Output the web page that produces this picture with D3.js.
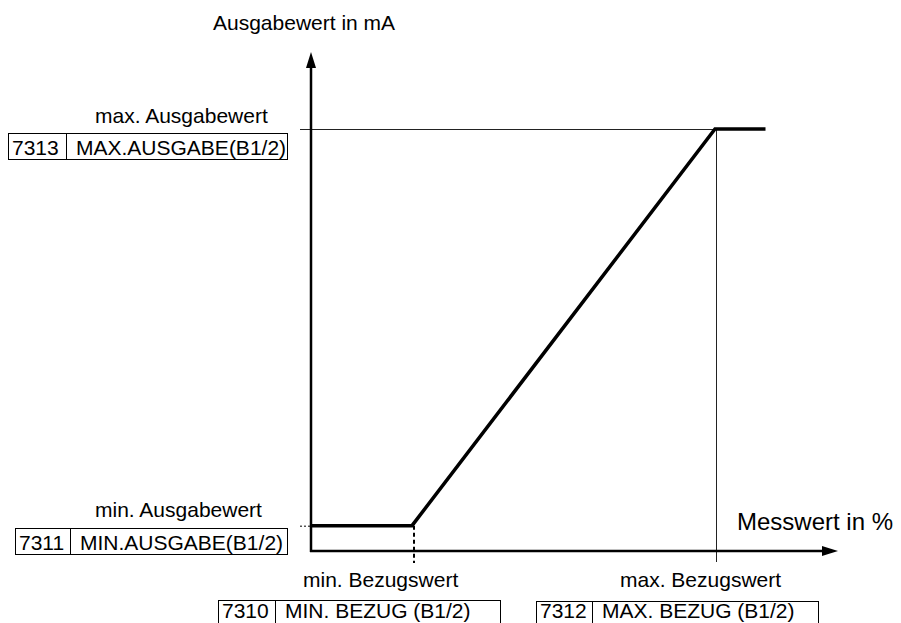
<!DOCTYPE html>
<html>
<head>
<meta charset="utf-8">
<script src="https://cdn.jsdelivr.net/npm/d3@7"></script>
<style>
  body { margin: 0; background: #fff; }
  svg text { font-family: "Liberation Sans", Arial, sans-serif; font-size: 21px; fill: #000; }
</style>
</head>
<body>
<div id="chart"></div>
<script>
// Chart size
const WIDTH = 901;
const HEIGHT = 623;

// Data (relative units)
const curveX = [0, 20, 80, 90];      // Messwert in %
const curveY = [6, 6, 100, 100];     // Ausgabewert (relative)
const refX = [20, 80];               // min. / max. Bezugswert
const outY = [6, 100];               // min. / max. Ausgabewert
const xLabels = ["min. Bezugswert", "max. Bezugswert"];
const yLabels = ["min. Ausgabewert", "max. Ausgabewert"];
const paramCodes = ["7310", "7312", "7311", "7313"];
const paramNames = ["MIN. BEZUG (B1/2)", "MAX. BEZUG (B1/2)", "MIN.AUSGABE(B1/2)", "MAX.AUSGABE(B1/2)"];

const svg = d3.select("#chart").append("svg")
  .attr("width", WIDTH).attr("height", HEIGHT);

const x = d3.scaleLinear().domain([0, 100]).range([311, 816]);
const y = d3.scaleLinear().domain([0, 100]).range([551, 129]);

// helper lines
svg.append("line")
  .attr("x1", 300).attr("x2", x(refX[1]))
  .attr("y1", y(outY[1]) + 0.5).attr("y2", y(outY[1]) + 0.5)
  .attr("stroke", "#222").attr("stroke-width", 1);
svg.append("line")
  .attr("x1", 716.5).attr("x2", 716.5)
  .attr("y1", y(outY[1])).attr("y2", 562)
  .attr("stroke", "#222").attr("stroke-width", 1);
svg.append("line")
  .attr("x1", x(refX[0]) + 2).attr("x2", x(refX[0]) + 2)
  .attr("y1", y(outY[0])).attr("y2", 563)
  .attr("stroke", "#000").attr("stroke-width", 2)
  .attr("stroke-dasharray", "4,3");
svg.append("line")
  .attr("x1", 300).attr("x2", x(0))
  .attr("y1", y(outY[0]) + 0.5).attr("y2", y(outY[0]) + 0.5)
  .attr("stroke", "#000").attr("stroke-width", 1)
  .attr("stroke-dasharray", "2,2");

// axes with arrows
svg.append("line")
  .attr("x1", x(0)).attr("x2", x(0))
  .attr("y1", y(0) + 1).attr("y2", 64)
  .attr("stroke", "#000").attr("stroke-width", 2.5);
svg.append("path")
  .attr("d", `M${x(0)},52 L${x(0) - 5},68 L${x(0) + 5},68 Z`)
  .attr("fill", "#000");
svg.append("line")
  .attr("x1", x(0) - 1).attr("x2", 826)
  .attr("y1", y(0)).attr("y2", y(0))
  .attr("stroke", "#000").attr("stroke-width", 2.5);
svg.append("path")
  .attr("d", `M838,${y(0)} L822,${y(0) - 5} L822,${y(0) + 5} Z`)
  .attr("fill", "#000");

// characteristic curve
const line = d3.line().x(d => x(d[0])).y(d => y(d[1]));
svg.append("path")
  .datum(curveX.map((d, i) => [d, curveY[i]]))
  .attr("d", line)
  .attr("fill", "none")
  .attr("stroke", "#000")
  .attr("stroke-width", 3.5)
  .attr("stroke-linejoin", "miter");

// axis titles
svg.append("text").attr("x", 213).attr("y", 30).text("Ausgabewert in mA");
svg.append("text").attr("x", 737).attr("y", 530)
  .style("font-size", "24px").text("Messwert in %");

// labels at reference values
svg.selectAll(".xlab").data(xLabels).enter().append("text")
  .attr("x", (d, i) => [303, 620][i])
  .attr("y", 587)
  .text(d => d);
svg.selectAll(".ylab").data(yLabels).enter().append("text")
  .attr("x", 95)
  .attr("y", (d, i) => [517, 123][i])
  .text(d => d);

// parameter boxes
const boxes = [
  { l: 218, m: 275, r: 500, t: 600, b: 625 },
  { l: 536, m: 592, r: 818, t: 601, b: 626 },
  { l: 15, m: 70, r: 287, t: 528, b: 554 },
  { l: 8, m: 66, r: 287, t: 133, b: 159 }
];
boxes.forEach((bx, i) => {
  const g = svg.append("g");
  g.append("rect")
    .attr("x", bx.l + 0.5).attr("y", bx.t + 0.5)
    .attr("width", bx.r - bx.l).attr("height", bx.b - bx.t)
    .attr("fill", "none").attr("stroke", "#000").attr("stroke-width", 1);
  g.append("line")
    .attr("x1", bx.m + 0.5).attr("x2", bx.m + 0.5)
    .attr("y1", bx.t).attr("y2", bx.b)
    .attr("stroke", "#000").attr("stroke-width", 1);
  const base = Math.min(bx.b, 622) - 4;
  g.append("text").attr("x", bx.l + 4).attr("y", base).text(paramCodes[i]);
  g.append("text").attr("x", bx.m + 10).attr("y", base).text(paramNames[i]);
});
</script>
</body>
</html>
